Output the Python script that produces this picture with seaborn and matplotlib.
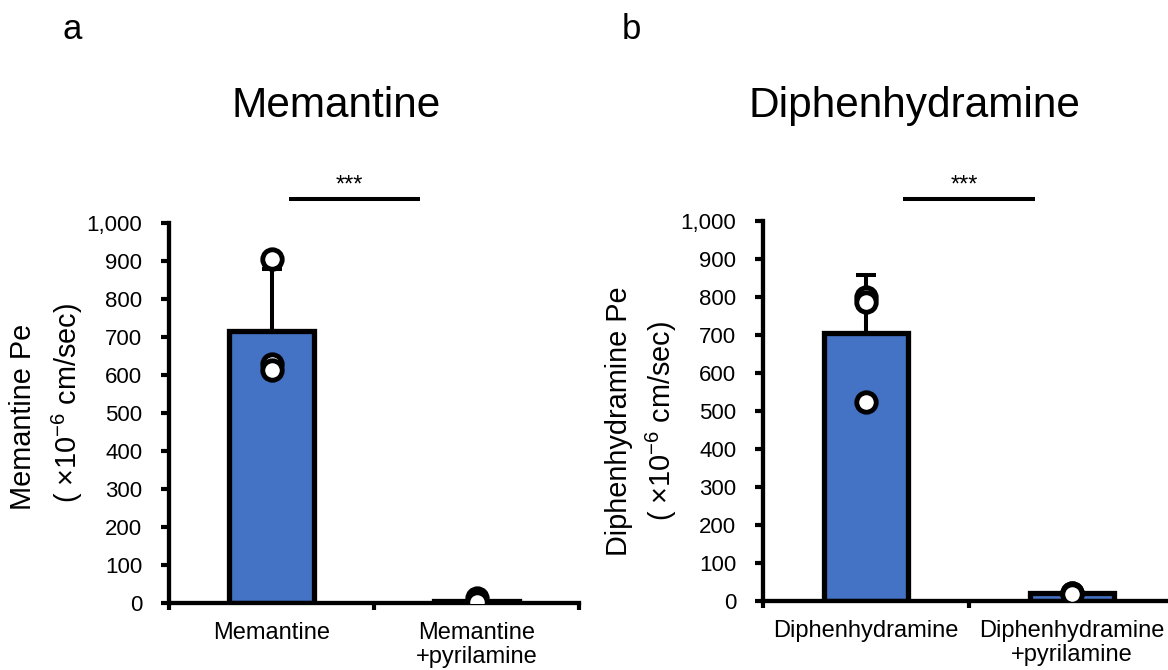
import numpy as np
import pandas as pd
import matplotlib
matplotlib.use("Agg")
import matplotlib.pyplot as plt
from matplotlib.ticker import FuncFormatter
import seaborn as sns

# Permeability (Pe, x10^-6 cm/sec), three replicates per condition
memantine_groups = ["Memantine", "Memantine\n+pyrilamine"]
memantine_alone = [905, 628, 612]
memantine_pyrilamine = [14, 3, 2]

diphenhydramine_groups = ["Diphenhydramine", "Diphenhydramine\n+pyrilamine"]
diphenhydramine_alone = [800, 787, 525]
diphenhydramine_pyrilamine = [22, 21, 19]

y_ticks = [0, 100, 200, 300, 400, 500, 600, 700, 800, 900, 1000]
significance = "***"

sns.set_style("ticks")
plt.rcParams["font.family"] = ["Liberation Sans", "DejaVu Sans"]
plt.rcParams["mathtext.fontset"] = "custom"
plt.rcParams["mathtext.rm"] = "Liberation Sans"
plt.rcParams["mathtext.default"] = "regular"
for key in ("text.color", "axes.labelcolor", "xtick.color", "ytick.color",
            "axes.edgecolor"):
    plt.rcParams[key] = "black"

BAR_BLUE = "#4472C4"
W, H = 1168, 670


def fx(px):
    return px / W


def fy(py):
    return 1 - py / H


def make_frame(groups, first, second):
    return pd.DataFrame({
        "group": [groups[0]] * len(first) + [groups[1]] * len(second),
        "value": list(first) + list(second),
    })


def draw_panel(ax, df, groups, sig_x, sig_y, star_x, star_y):
    sns.barplot(data=df, x="group", y="value", order=groups, errorbar=None,
                color=BAR_BLUE, edgecolor="black", linewidth=3.8, width=0.41,
                saturation=1, ax=ax)
    for p in ax.patches:
        p.set_zorder(2)
    # mean + SD, upper whisker only
    stats = df.groupby("group", sort=False)["value"].agg(["mean", "std"]).reindex(groups)
    ax.errorbar(x=[0, 1], y=stats["mean"].values,
                yerr=[np.zeros(2), stats["std"].values],
                fmt="none", ecolor="black", elinewidth=2.9, capsize=7,
                capthick=2.9, zorder=1.5)
    sns.stripplot(data=df, x="group", y="value", order=groups, jitter=False,
                  color="white", edgecolor="black", linewidth=3.5, size=14,
                  ax=ax, zorder=4)

    ax.set_xlim(-0.5, 1.5)
    ax.set_ylim(0, 1000)
    ax.set_yticks(y_ticks)
    ax.yaxis.set_major_formatter(FuncFormatter(lambda v, _: f"{v:,.0f}"))
    ax.set_xticks([-0.5, 0.5, 1.5])
    ax.set_xticklabels([])
    ax.set_xticks([0, 1], minor=True)
    ax.set_xticklabels(groups, minor=True, fontsize=17, linespacing=1.1)
    ax.tick_params(axis="x", which="major", direction="out", length=5.2,
                   width=3.0, color="black")
    ax.tick_params(axis="x", which="minor", length=0, pad=14)
    ax.tick_params(axis="y", which="major", direction="out", length=5.8,
                   width=3.0, color="black", labelsize=16, pad=13.5)
    ax.set_xlabel("")
    ax.set_ylabel("")
    for side in ("top", "right"):
        ax.spines[side].set_visible(False)
    for side in ("left", "bottom"):
        ax.spines[side].set_linewidth(3.1)
        ax.spines[side].set_color("black")
    ax.set_facecolor("none")

    ax.plot(sig_x, [sig_y, sig_y], color="black", lw=2.9,
            solid_capstyle="butt", clip_on=False)
    ax.text(star_x, star_y, significance, ha="center", va="baseline",
            fontsize=17, clip_on=False)


fig = plt.figure(figsize=(W / 100, H / 100), dpi=100)

ax1 = fig.add_axes([fx(169), fy(603), 410 / W, 380 / H])
ax2 = fig.add_axes([fx(763), fy(601), 412 / W, 380 / H])

df_mem = make_frame(memantine_groups, memantine_alone, memantine_pyrilamine)
df_dip = make_frame(diphenhydramine_groups, diphenhydramine_alone,
                    diphenhydramine_pyrilamine)

draw_panel(ax1, df_mem, memantine_groups, [0.085, 0.724], 1063, 0.378, 1084)
draw_panel(ax2, df_dip, diphenhydramine_groups, [0.18, 0.82], 1058, 0.476, 1078)

# panel letters and titles
fig.text(fx(62), fy(39), "a", ha="left", va="baseline", fontsize=25)
fig.text(fx(622), fy(39), "b", ha="left", va="baseline", fontsize=25)
fig.text(fx(336), fy(117), "Memantine", ha="center", va="baseline", fontsize=30.5)
fig.text(fx(914), fy(117), "Diphenhydramine", ha="center", va="baseline",
         fontsize=30.5)

# two-line y-axis labels
unit = "( ×10$^{-6}$ cm/sec)"
fig.text(fx(23), fy(417), "Memantine Pe", rotation=90, ha="center",
         va="center", fontsize=20.8)
fig.text(fx(67), fy(403), unit, rotation=90, ha="center", va="center",
         fontsize=20.8)
fig.text(fx(619), fy(421), "Diphenhydramine Pe", rotation=90, ha="center",
         va="center", fontsize=20.8)
fig.text(fx(661), fy(421), unit, rotation=90, ha="center", va="center",
         fontsize=20.8)

fig.savefig("out.png", dpi=100, facecolor="white")
